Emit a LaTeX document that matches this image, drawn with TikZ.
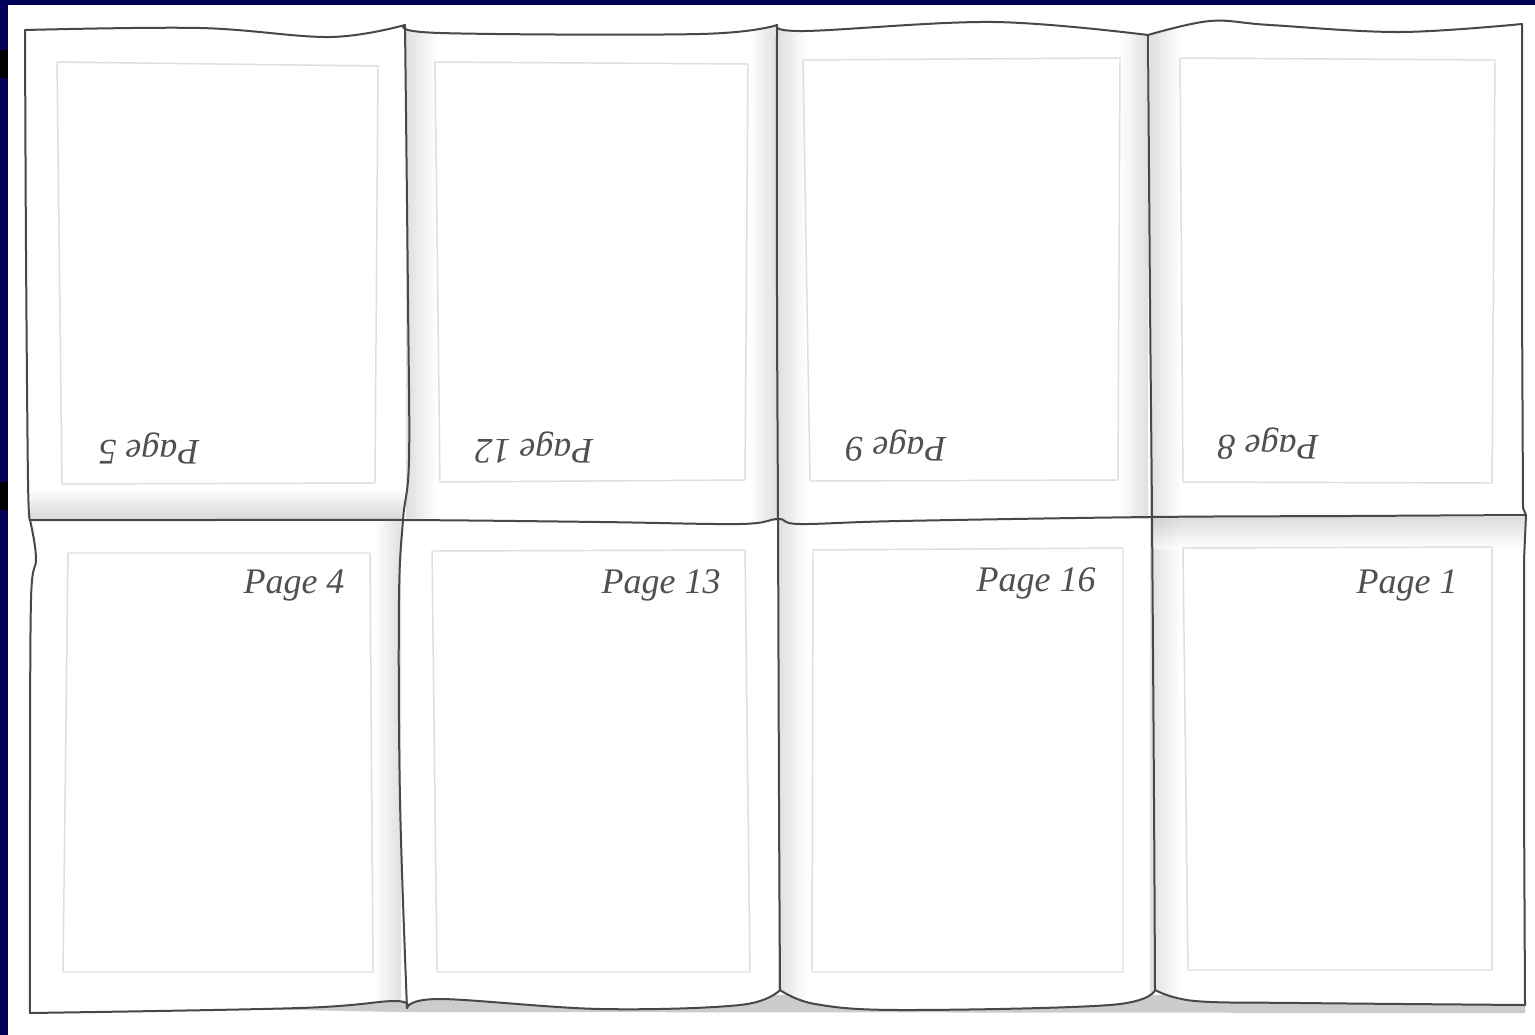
\documentclass[tikz,border=0pt]{standalone}
\usepackage{fontspec}
\setmainfont{Liberation Serif}
\definecolor{navy}{RGB}{0,0,88}
\definecolor{ink}{RGB}{72,72,72}
\definecolor{faint}{RGB}{222,222,222}
\definecolor{txt}{RGB}{80,80,80}
\newcommand{\sheetoutline}{%
  plot[smooth,tension=0.6] coordinates {(25,30) (200,28) (330,37) (405,25)}
  -- plot[smooth,tension=0.6] coordinates {(405,25) (440,33) (700,34) (777,25)}
  -- plot[smooth,tension=0.6] coordinates {(777,25) (805,31) (993,22) (1148,35)}
  -- plot[smooth,tension=0.6] coordinates {(1148,35) (1210,21) (1270,25) (1400,32) (1522,24)}
  -- (1522,300) -- (1523,508) -- (1526,515)
  -- (1524,560) -- (1524,800) -- (1525,1005)
  -- plot[smooth,tension=0.6] coordinates {(1525,1005) (1300,1003) (1195,1001) (1155,990)}
  -- plot[smooth,tension=0.6] coordinates {(1155,990) (1110,1005) (900,1010) (815,1004) (780,990)}
  -- plot[smooth,tension=0.6] coordinates {(780,990) (740,1005) (600,1009) (440,999) (407,1008)}
  -- plot[smooth,tension=0.6] coordinates {(407,1008) (395,1001) (300,1008) (30,1013)}
  -- plot[smooth,tension=0.6] coordinates {(30,1013) (30,800) (31,600) (36,558) (30,520)}
  -- plot[smooth,tension=0.6] coordinates {(30,520) (28,480) (26,250) (25,30)}
  -- cycle}
\begin{document}
\begin{tikzpicture}[x=0.75pt,y=-0.75pt,
  edge/.style={draw=ink,line width=1.5pt,line join=round,line cap=round},
  inner/.style={draw=faint,line width=1.1pt,line join=round},
  lbl/.style={font=\itshape\fontsize{27}{30}\selectfont,text=txt,inner sep=0pt},
  vshade/.style={shading=axis,opacity=0.55},
]
\useasboundingbox (0,0) rectangle (1535,1035);
\fill[white] (-20,-20) rectangle (1555,1055);
% navy frame
\fill[navy] (-20,-20) rectangle (1555,5);
\fill[navy] (-20,-20) rectangle (8,1055);
\fill[black] (-20,50) rectangle (8,78);
\fill[black] (-20,482) rectangle (8,510);
% cast shadow under bottom edge
\fill[gray!40] (30,1005) -- (400,1012) -- (1525,1013) -- (1525,995) -- (30,995) -- cycle;
% sheet
\fill[white] \sheetoutline;
\begin{scope}
  \clip \sheetoutline;
  % vertical fold shading
  \shade[vshade,left color=gray!45,right color=white] (406,25) rectangle (436,520);
  \shade[vshade,left color=white,right color=gray!45] (750,25) rectangle (777,520);
  \shade[vshade,left color=gray!45,right color=white] (778,25) rectangle (806,1010);
  \shade[vshade,left color=white,right color=gray!45] (1120,25) rectangle (1148,518);
  \shade[vshade,left color=gray!45,right color=white] (1150,25) rectangle (1180,1010);
  \shade[vshade,left color=white,right color=gray!45] (375,520) rectangle (401,1010);
  % horizontal fold shading
  \shade[vshade,top color=white,bottom color=gray!55] (30,488) rectangle (404,520);
  \shade[vshade,top color=gray!50,bottom color=white] (1152,517) rectangle (1525,548);
\end{scope}
% inner page frames
\draw[inner] (57,62) -- (378,66) -- (375,483) -- (62,484) -- cycle;
\draw[inner] (435,62) -- (748,64) -- (745,480) -- (440,482) -- cycle;
\draw[inner] (803,60) -- (1120,58) -- (1118,480) -- (810,481) -- cycle;
\draw[inner] (1180,58) -- (1495,60) -- (1492,483) -- (1183,482) -- cycle;
\draw[inner] (68,553) -- (370,553) -- (373,972) -- (63,972) -- cycle;
\draw[inner] (432,551) -- (745,550) -- (750,972) -- (437,972) -- cycle;
\draw[inner] (813,550) -- (1123,548) -- (1123,972) -- (812,972) -- cycle;
\draw[inner] (1183,548) -- (1492,547) -- (1492,970) -- (1188,970) -- cycle;
% folds
\draw[edge] plot[smooth,tension=0.6] coordinates {(405,25) (408,300) (409,460) (403,520) (399,600) (400,800) (407,1008)};
\draw[edge] plot[smooth,tension=0.6] coordinates {(777,25) (777,300) (778,520) (779,800) (780,990)};
\draw[edge] plot[smooth,tension=0.6] coordinates {(1148,35) (1150,300) (1152,517) (1154,800) (1155,990)};
\draw[edge] plot[smooth,tension=0.6] coordinates {(30,520) (200,520) (403,520) (600,522) (740,524) (778,519) (800,524) (900,521) (1152,517) (1350,516) (1526,515)};
% outline
\draw[edge] \sheetoutline;
% labels
\node[lbl,rotate=180] (p5) at (149,448) {Page 5};
\node[lbl,rotate=180] (p12) at (534,448) {Page 12};
\node[lbl,rotate=180] (p9) at (896,446) {Page 9};
\node[lbl,rotate=180] (p8) at (1268,444) {Page 8};
\node[lbl] (p4) at (294,585) {Page 4};
\node[lbl] (p13) at (661,585) {Page 13};
\node[lbl] (p16) at (1036,583) {Page 16};
\node[lbl] (p1) at (1407,585) {Page 1};
\end{tikzpicture}
\end{document}
